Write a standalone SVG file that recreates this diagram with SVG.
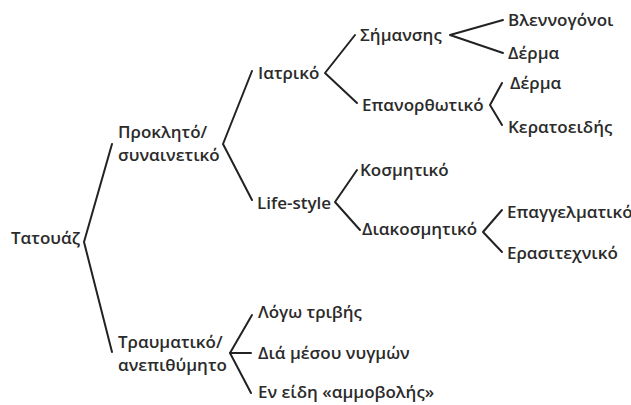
<svg xmlns="http://www.w3.org/2000/svg" width="631" height="405" viewBox="0 0 631 405">
<style>
text{font-family:"Open Sans","Noto Sans","DejaVu Sans",sans-serif;font-size:17px;font-weight:600;fill:#2b2b2b}
.c{fill:none;stroke:#222;stroke-width:2;stroke-linecap:round;stroke-linejoin:round}
</style>
<rect width="631" height="405" fill="#fff"/>
<g id="connectors">
<polyline class="c" points="112,144 84,242 112,352"/>
<polyline class="c" points="252,71 223,144 252,200"/>
<polyline class="c" points="252,315 230,353 251,353"/>
<polyline class="c" points="230,353 251,393"/>
<polyline class="c" points="355,35 325,73 357,103"/>
<polyline class="c" points="503,20 450,35 503,53"/>
<polyline class="c" points="502,83 490,105 502,125"/>
<polyline class="c" points="357,170 335,202 360,230"/>
<polyline class="c" points="502,210 483,232 502,252"/>
</g>
<g id="n-tatouaz"><text x="11" y="244">Τατουάζ</text></g>
<g id="n-proklito"><text x="118" y="138">Προκλητό/</text><text x="118" y="161">συναινετικό</text></g>
<g id="n-traumatiko"><text x="118" y="348">Τραυματικό/</text><text x="118" y="371">ανεπιθύμητο</text></g>
<g id="n-iatriko"><text x="258" y="79">Ιατρικό</text></g>
<g id="n-lifestyle"><text x="257" y="209">Life-style</text></g>
<g id="n-simansis"><text x="360" y="41">Σήμανσης</text></g>
<g id="n-epanorthotiko"><text x="362" y="111">Επανορθωτικό</text></g>
<g id="n-vlennogonoi"><text x="508" y="26">Βλεννογόνοι</text></g>
<g id="n-derma1"><text x="508" y="59">Δέρμα</text></g>
<g id="n-derma2"><text x="510" y="89">Δέρμα</text></g>
<g id="n-keratoeidis"><text x="508" y="133">Κερατοειδής</text></g>
<g id="n-kosmitiko"><text x="360" y="176">Κοσμητικό</text></g>
<g id="n-diakosmitiko"><text x="362" y="235">Διακοσμητικό</text></g>
<g id="n-epaggelmatiko"><text x="507" y="218">Επαγγελματικό</text></g>
<g id="n-erasitexniko"><text x="507" y="259">Ερασιτεχνικό</text></g>
<g id="n-logo"><text x="258" y="318">Λόγω τριβής</text></g>
<g id="n-dia"><text x="258" y="359">Διά μέσου νυγμών</text></g>
<g id="n-en"><text x="258" y="398">Εν είδη «αμμοβολής»</text></g>
</svg>
